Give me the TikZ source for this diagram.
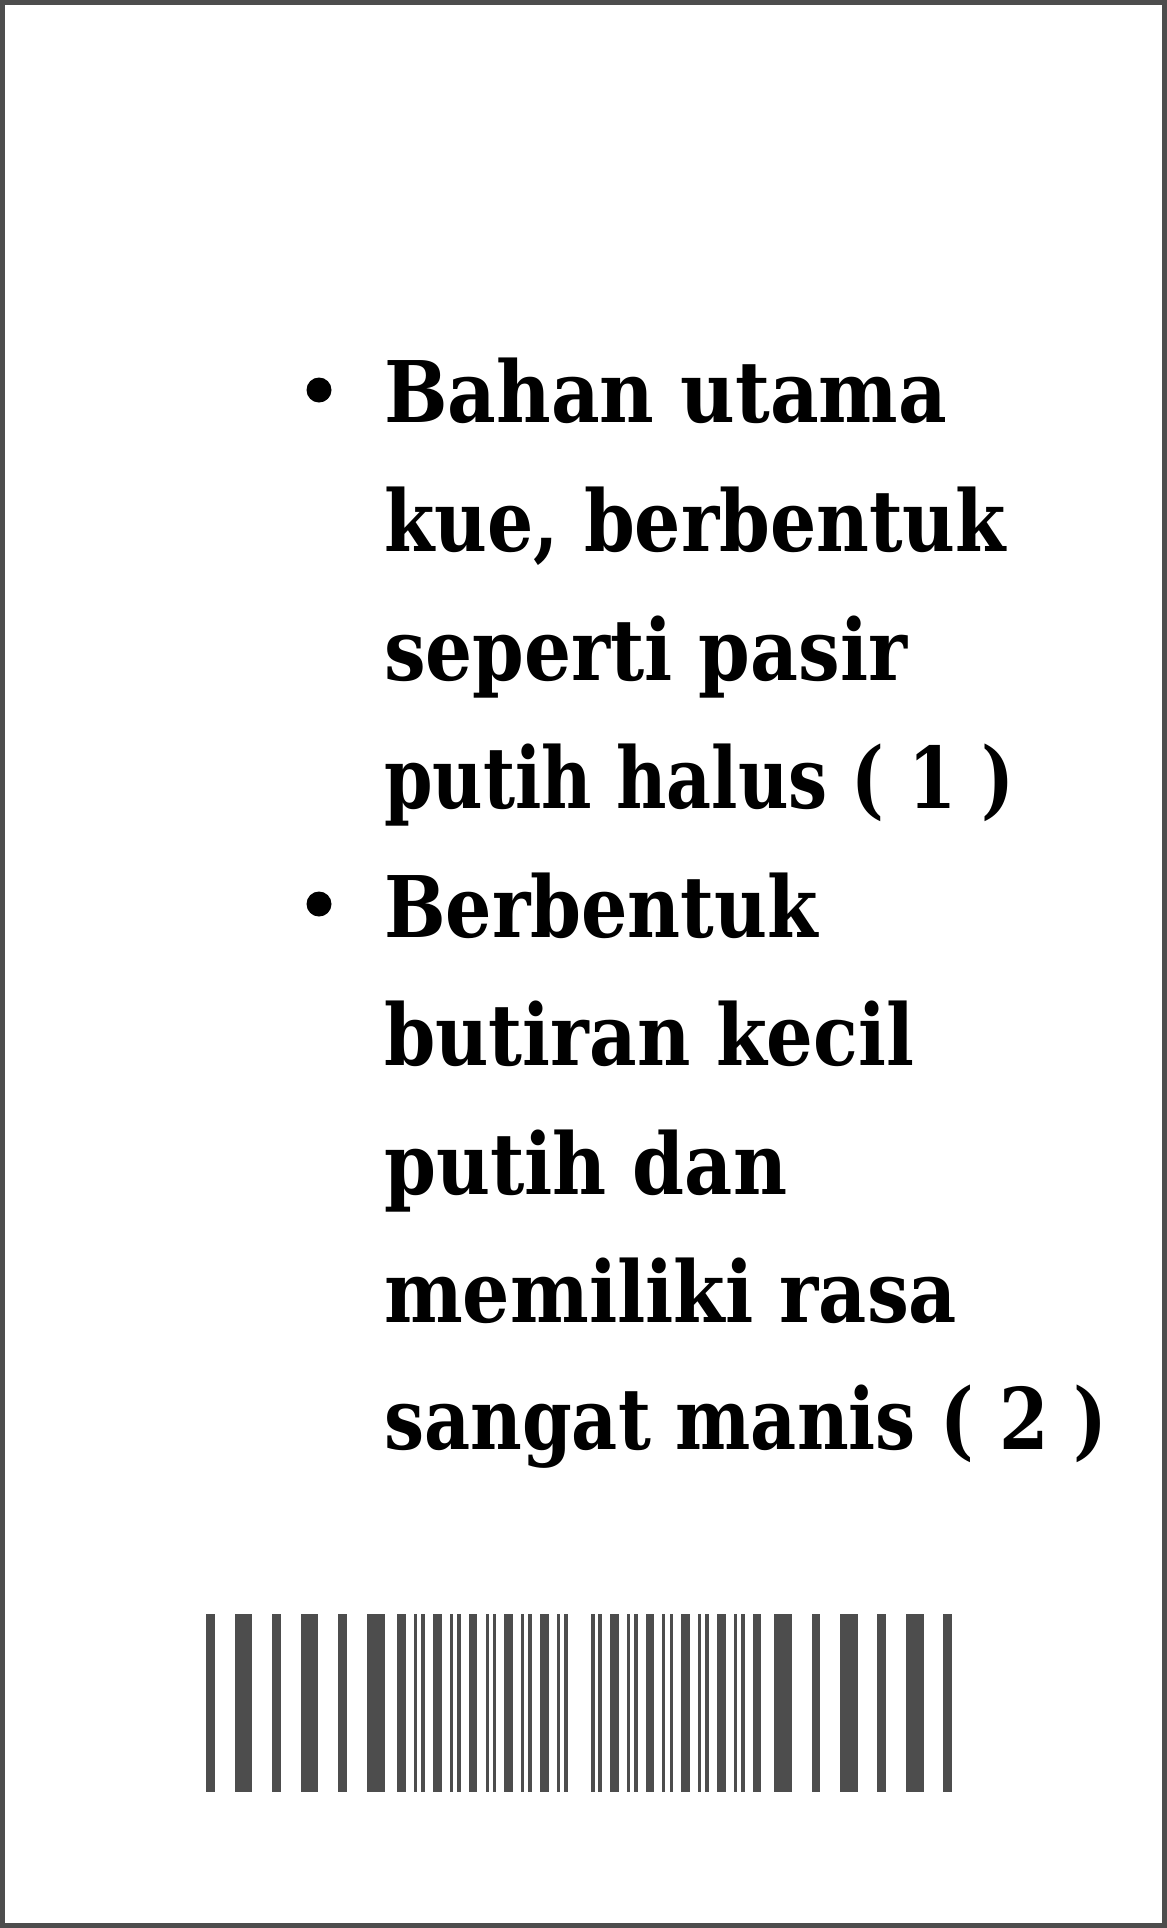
\documentclass[tikz,border=0pt]{standalone}
\usepackage{fontspec}
\setmainfont{DejaVu Serif}
\usepackage{graphicx}
\newsavebox\fitbox
\newcommand\fitline[2]{\sbox\fitbox{#2}\pgfmathsetmacro\fitsx{#1/\the\wd\fitbox}\scalebox{\fitsx}[1]{\usebox\fitbox}}
\definecolor{barc}{HTML}{4D4D4D}
\tikzset{
  txtline/.style={anchor=base west, inner sep=0pt, font=\fontsize{85}{100}\selectfont\bfseries},
  bulletdot/.style={circle, fill=black, inner sep=0pt, minimum size=25pt}
}
\begin{document}
\begin{tikzpicture}[x=1pt,y=-1pt]
\useasboundingbox (0,0) rectangle (1167,1928);
\fill[white] (0,0) rectangle (1167,1928);
\draw[barc, line width=5pt] (2.5,2.5) rectangle (1164.5,1925.5);
% bullets
\node[bulletdot] (b1) at (319,390) {};
\node[bulletdot] (b2) at (319,904) {};
% text lines
\node[txtline] (l1) at (384,422) {\fitline{563}{Bahan utama}};
\node[txtline] (l2) at (384,551) {\fitline{622}{kue, berbentuk}};
\node[txtline] (l3) at (384,680) {\fitline{523}{seperti pasir}};
\node[txtline] (l4) at (384,808) {\fitline{630}{putih halus ( 1 )}};
\node[txtline] (l5) at (384,937) {\fitline{434}{Berbentuk}};
\node[txtline] (l6) at (384,1065) {\fitline{530}{butiran kecil}};
\node[txtline] (l7) at (384,1194) {\fitline{403}{putih dan}};
\node[txtline] (l8) at (384,1322) {\fitline{573}{memiliki rasa}};
\node[txtline] (l9) at (384,1449) {\fitline{723}{sangat manis ( 2 )}};
% barcode
\foreach \a/\b in {206/215.3,235/252,272.3/281.3,301/318.3,338.3/347.3,366.7/384.7,397.3/406,414/416.7,421.3/425,433/441.7,450/452.7,457/460.7,468.7/477.3,485.7/488.7,492.7/496.3,504.3/513,521.3/524,528.3/532,540/548.7,557/559.7,564/567.7,591/594.7,598.3/602,610/619,627/630,634/637.7,645.7/654.3,662.3/665.3,669.7/673.3,681.3/690,698.3/701,705.3/709,717/725.7,734/736.7,741/744.7,752.7/761.3,774.3/791.7,811.7/820.3,840/857.7,877/886,906/924,943.3/952.3}
  \fill[barc] (\a,1614) rectangle (\b,1792);
\end{tikzpicture}
\end{document}
